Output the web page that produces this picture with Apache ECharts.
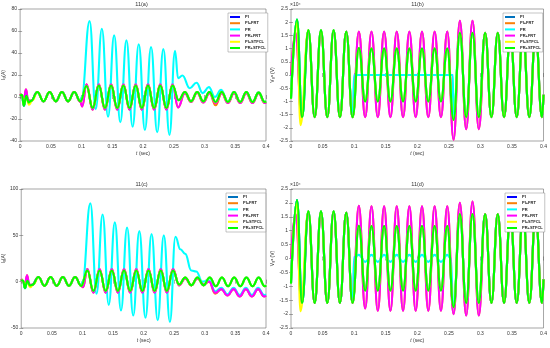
<!DOCTYPE html>
<html><head><meta charset="utf-8">
<script src="https://cdn.jsdelivr.net/npm/echarts@6/dist/echarts.min.js"></script>
<style>html,body{margin:0;padding:0;background:#fff}#c{width:550px;height:348px}</style>
</head><body><div id="c"></div>
<script>
// ---------- DATA ([time s, value]) ----------
const seriesNames = ['PI','PI+FRT','PR','PR+FRT','PI+STFCL','PR+STFCL'];
const panelTitles = ['11(a)','11(b)','11(c)','11(d)'];
const xTicks = [0,0.05,0.1,0.15,0.2,0.25,0.3,0.35,0.4];

// Panel (a) grid current Ig (A)
const greenA = [[0,1],[0.003,2],[0.006,-8],[0.01,1],[0.014,-5],[0.018,-3.5],[0.028,4.5],[0.038,-4],[0.048,4.5],[0.058,-4],[0.068,4.5],[0.078,-4],[0.088,4.5],[0.098,-4],[0.108,10],[0.118,-10],[0.128,10.5],[0.138,-10],[0.148,10.5],[0.158,-10],[0.168,10.5],[0.178,-10],[0.188,10.5],[0.198,-10],[0.208,10.5],[0.218,-10],[0.228,10.5],[0.238,-10],[0.248,10.5],[0.258,-3],[0.268,4.5],[0.278,-4],[0.288,4.5],[0.298,-4],[0.308,4.5],[0.318,-4.5],[0.328,4.5],[0.338,-4.5],[0.348,4.5],[0.358,-4.5],[0.368,4.5],[0.378,-4.5],[0.388,4],[0.398,-4.5],[0.4,-4]];
const magentaA = [[0,3],[0.003,1],[0.006,-3],[0.0095,7],[0.013,-3],[0.018,-3.5],[0.028,4.5],[0.038,-4],[0.048,4.5],[0.058,-4],[0.068,4.5],[0.078,-4],[0.088,4.5],[0.098,-4.5],[0.101,-8.5],[0.108,11.5],[0.118,-11.5],[0.128,11.5],[0.138,-11.5],[0.148,11.5],[0.158,-11.5],[0.168,11.5],[0.178,-11.5],[0.188,11.5],[0.198,-11.5],[0.208,11.5],[0.218,-11.5],[0.228,11.5],[0.238,-11.5],[0.248,11.5],[0.257,-9.5],[0.268,3.5],[0.278,-4.5],[0.288,4],[0.298,-5],[0.308,3.5],[0.318,-5.5],[0.328,3.5],[0.338,-5.5],[0.348,3.5],[0.358,-5.5],[0.368,3.5],[0.378,-5.5],[0.388,3.5],[0.398,-5.5],[0.4,-5]];
const orangeOverridesA = [[0.318,-7.5]];
const cyanFaultA = [[0.1,0],[0.113,69],[0.123,-11],[0.133,62],[0.143,-18],[0.153,56],[0.163,-23],[0.173,51.5],[0.183,-27],[0.193,48],[0.203,-30],[0.213,45.5],[0.223,-32],[0.233,43.5],[0.243,-34.5],[0.252,42],[0.257,17],[0.264,19.5],[0.276,8],[0.287,13],[0.297,3.5],[0.307,9],[0.317,0],[0.327,6.5],[0.338,-4],[0.348,4.5],[0.358,-4.5],[0.368,4.5],[0.378,-4.5],[0.388,4],[0.398,-4.5],[0.4,-4]];
const yellowEarlyA = [[0,1],[0.003,2],[0.006,-7.5],[0.0095,0],[0.0145,-7],[0.02,-3]];

// Panel (b) grid voltage (x10^4 V)
const greenB = [[0,-0.9],[0.0095,2.1],[0.0175,-1.6],[0.0275,1.7],[0.0375,-1.6],[0.0475,1.7],[0.0575,-1.6],[0.0675,1.7],[0.0775,-1.6],[0.0875,1.65],[0.0975,-1.6],[0.1075,1.02],[0.1175,-1.0],[0.1275,1.0],[0.1375,-1.0],[0.1475,1.0],[0.1575,-1.0],[0.1675,1.0],[0.1775,-1.0],[0.1875,1.0],[0.1975,-1.0],[0.2075,1.0],[0.2175,-1.0],[0.2275,1.0],[0.2375,-1.0],[0.2475,1.0],[0.2575,-1.7],[0.2675,1.6],[0.2775,-1.6],[0.2875,1.6],[0.2975,-1.6],[0.3075,1.6],[0.3175,-1.6],[0.3275,1.6],[0.3375,-1.6],[0.3475,1.6],[0.3575,-1.6],[0.3675,1.6],[0.3775,-1.6],[0.3875,1.6],[0.3975,-1.6],[0.4,-0.75]];
const magentaB = [[0,0],[0.0072,1.6],[0.0168,-1.6],[0.0275,1.65],[0.0375,-1.6],[0.0475,1.65],[0.0575,-1.6],[0.0675,1.65],[0.0775,-1.6],[0.0875,1.65],[0.0975,-1.6],[0.1075,1.65],[0.1175,-1.6],[0.1275,1.65],[0.1375,-1.6],[0.1475,1.65],[0.1575,-1.6],[0.1675,1.65],[0.1775,-1.6],[0.1875,1.65],[0.1975,-1.6],[0.2075,1.65],[0.2175,-1.6],[0.2275,1.65],[0.2375,-1.6],[0.2475,1.65],[0.2575,-2.45],[0.2675,2.05],[0.2775,-2.05],[0.2875,2.05],[0.2975,-2.05],[0.3075,1.6],[0.3175,-1.6],[0.3275,1.6],[0.3375,-1.6],[0.3475,1.6],[0.3575,-1.6],[0.3675,1.6],[0.3775,-1.6],[0.3875,1.6],[0.3975,-1.6],[0.4,-0.75]];
const cyanFaultB = [[0.1,0],[0.2565,0],[0.257,-1.7]];
const yellowEarlyB = [[0,-0.9],[0.0095,2.0],[0.015,-1.9]];

// Panel (c) grid current Ig (A)
const greenC = [[0,2],[0.003,1],[0.006,-7],[0.01,1],[0.014,-4],[0.018,-3.5],[0.028,5],[0.038,-4.5],[0.048,5],[0.058,-4.5],[0.068,5],[0.078,-4.5],[0.088,5],[0.098,-4.5],[0.108,12],[0.118,-10],[0.128,12],[0.138,-10],[0.148,12],[0.158,-10],[0.168,12],[0.178,-10],[0.188,12],[0.198,-10],[0.208,12],[0.218,-10],[0.228,12],[0.238,-10],[0.248,12],[0.258,-3],[0.268,4.5],[0.278,-4],[0.288,4.5],[0.298,-4],[0.308,4.5],[0.318,-5],[0.328,4.5],[0.338,-5],[0.348,4.5],[0.358,-5],[0.368,4.5],[0.378,-5],[0.388,4.5],[0.398,-5],[0.4,-4]];
const magentaC = [[0,3],[0.003,0],[0.006,-3],[0.0095,7],[0.013,-3],[0.018,-3.5],[0.028,5],[0.038,-4.5],[0.048,5],[0.058,-4.5],[0.068,5],[0.078,-4.5],[0.088,5],[0.098,-4.5],[0.101,-6],[0.108,13.5],[0.118,-12],[0.128,13.5],[0.138,-12],[0.148,13.5],[0.158,-12],[0.168,13.5],[0.178,-12],[0.188,13.5],[0.198,-12],[0.208,13.5],[0.218,-12],[0.228,13.5],[0.238,-12],[0.248,13.5],[0.258,-4],[0.268,3.5],[0.278,-4],[0.288,3.5],[0.298,-3],[0.307,0],[0.317,-12],[0.327,-8],[0.337,-15],[0.347,-8],[0.357,-16],[0.367,-8],[0.377,-16],[0.387,-8],[0.397,-16],[0.4,-15]];
const orangeOverridesC = [[0.317,-13]];
const cyanFaultC = [[0.1,0],[0.113,84.5],[0.123,-13],[0.133,72.5],[0.143,-25],[0.153,64],[0.163,-31],[0.173,58.5],[0.183,-36.5],[0.193,54.5],[0.203,-39],[0.213,51.5],[0.223,-41.5],[0.233,50],[0.243,-43.5],[0.252,48.5],[0.26,35],[0.268,30],[0.278,12],[0.286,11],[0.296,0],[0.307,1.5],[0.317,-10.5],[0.327,-6.5],[0.337,-13.5],[0.347,-6.5],[0.357,-14.5],[0.367,-6.5],[0.377,-14.5],[0.387,-6.5],[0.397,-14.5],[0.4,-13.5]];
const yellowEarlyC = [[0,2],[0.003,1],[0.006,-6],[0.0095,0],[0.0145,-6],[0.02,-3]];

// Panel (d) grid voltage (x10^4 V): fault-period segments, rest as in (b)
const greenFaultD = [[0.1075,1.18],[0.1175,-1.15],[0.1275,1.17],[0.1375,-1.15],[0.1475,1.17],[0.1575,-1.15],[0.1675,1.17],[0.1775,-1.15],[0.1875,1.17],[0.1975,-1.15],[0.2075,1.17],[0.2175,-1.15],[0.2275,1.17],[0.2375,-1.15],[0.2475,1.17],[0.2575,-1.75]];
const magentaFaultD = [[0.1075,1.9],[0.1175,-1.8],[0.1275,1.88],[0.1375,-1.88],[0.1475,1.88],[0.1575,-1.88],[0.1675,1.88],[0.1775,-1.88],[0.1875,1.88],[0.1975,-1.88],[0.2075,1.88],[0.2175,-1.88],[0.2275,1.88],[0.2375,-1.88],[0.2475,1.88],[0.2575,-2.0],[0.2675,2.0],[0.2775,-2.05],[0.2875,2.05],[0.2975,-2.05]];
const cyanFaultD = [[0.1,0.05],[0.1075,0.13],[0.1175,-0.12],[0.1275,0.13],[0.1375,-0.12],[0.1475,0.13],[0.1575,-0.12],[0.1675,0.13],[0.1775,-0.12],[0.1875,0.13],[0.1975,-0.12],[0.2075,0.13],[0.2175,-0.12],[0.2275,0.13],[0.2375,-0.12],[0.2475,0.13],[0.2525,0.02]];

// ---------- assemble series from the arrays above ----------
function override(arr, ov){ return arr.map(p => { const o = ov.find(q => q[0] === p[0]); return o ? o : p; }); }
const preA = greenA.filter(p => p[0] < 0.1);
const preC = greenC.filter(p => p[0] < 0.1);
const greenD = greenB.slice(0,11).concat(greenFaultD, greenB.slice(27));
const magentaD = magentaB.slice(0,11).concat(magentaFaultD, magentaB.slice(31));
const panelData = [
  [greenA, override(magentaA, orangeOverridesA), preA.concat(cyanFaultA), magentaA, yellowEarlyA.concat(greenA.slice(6)), greenA],
  [greenB, magentaB, greenB.slice(0,11).concat(cyanFaultB, greenB.slice(27)), magentaB, yellowEarlyB.concat(greenB.slice(3)), greenB],
  [greenC, override(magentaC, orangeOverridesC), preC.concat(cyanFaultC), magentaC, yellowEarlyC.concat(greenC.slice(6)), greenC],
  [greenD, magentaD, greenD.slice(0,11).concat(cyanFaultD, greenD.slice(26)), magentaD, yellowEarlyB.concat(greenD.slice(3)), greenD]
];
const yRanges = [[-40,80,20],[-2.5,2.5,0.5],[-50,100,50],[-2.5,2.5,0.5]];

// ---------- styles / layout ----------
const FONT = '"Liberation Sans", Arial, Helvetica, sans-serif';
const colorSets = [
  ['#0000FF','#F97F0A','#00FFFF','#FF00FF','#FFFF00','#00FF00'],
  ['#0072BD','#F97F0A','#00FFFF','#FF00FF','#FFFF00','#00FF00'],
  ['#0072BD','#F97F0A','#00FFFF','#FF00FF','#FFFF00','#00FF00'],
  ['#0000FF','#F97F0A','#00FFFF','#FF00FF','#FFFF00','#00FF00']
];
const grids = [
  {left:17, top:9, width:249, height:132},
  {left:291, top:9, width:253, height:132},
  {left:17, top:189, width:249, height:139},
  {left:291, top:189, width:253, height:139}
];
const legendPos = [{left:228, top:13},{left:503, top:13},{left:226, top:193},{left:505, top:193}];
const yNames = ['I{s|g}(A)','V{s|g}{u|a} (V)','I{s|g}(A)','V{s|g}{u|a} (V)'];

const option = {animation:false, backgroundColor:'#fff', grid:[], xAxis:[], yAxis:[], series:[], legend:[], graphic:[]};
const axisCol = '#555';
grids.forEach((g,i) => {
  option.grid.push(Object.assign({show:true, borderColor:'#6a6a6a', borderWidth:0.6, backgroundColor:'#fff'}, g));
  const [ymin,ymax,yint] = yRanges[i];
  option.xAxis.push({gridIndex:i, type:'value', min:0, max:0.4, interval:0.05,
    axisLine:{show:false}, axisTick:{inside:true, length:2, lineStyle:{color:axisCol, width:0.5}},
    axisLabel:{fontSize:5, color:'#333', margin:3, fontFamily:FONT}, splitLine:{show:false},
    name:'{i|t} (sec)', nameLocation:'middle', nameGap:10,
    nameTextStyle:{fontSize:5, color:'#333', fontFamily:FONT, rich:{i:{fontStyle:'italic', fontSize:5, fontFamily:FONT}}}});
  option.xAxis.push({gridIndex:i, type:'value', position:'top', min:0, max:0.4, interval:0.05,
    axisLine:{show:false}, axisTick:{inside:true, length:2, lineStyle:{color:axisCol, width:0.5}},
    axisLabel:{show:false}, splitLine:{show:false}});
  option.yAxis.push({gridIndex:i, type:'value', min:ymin, max:ymax, interval:yint,
    axisLine:{show:false}, axisTick:{inside:true, length:2, lineStyle:{color:axisCol, width:0.5}},
    axisLabel:{fontSize:5, color:'#333', margin:3, fontFamily:FONT}, splitLine:{show:false},
    name:yNames[i], nameLocation:'middle', nameGap:(i%2===0?12:10), nameRotate:90,
    nameTextStyle:{fontSize:5, color:'#333', fontFamily:FONT, rich:{s:{fontSize:3.5, verticalAlign:'bottom', fontFamily:FONT}, u:{fontSize:3.5, verticalAlign:'top', fontFamily:FONT}}}});
  option.yAxis.push({gridIndex:i, type:'value', position:'right', min:ymin, max:ymax, interval:yint,
    axisLine:{show:false}, axisTick:{inside:true, length:2, lineStyle:{color:axisCol, width:0.5}},
    axisLabel:{show:false}, splitLine:{show:false}});
  seriesNames.forEach((nm,k) => {
    option.series.push({name:nm, type:'line', xAxisIndex:2*i, yAxisIndex:2*i, data:panelData[i][k],
      showSymbol:false, symbol:'none', smooth:0.45, smoothMonotone:'x',
      lineStyle:{width:2.1, color:colorSets[i][k]}, itemStyle:{color:colorSets[i][k]}, z:2});
  });
  option.legend.push({orient:'vertical', left:legendPos[i].left, top:legendPos[i].top, z:20,
    backgroundColor:'#fff', borderColor:'#888', borderWidth:0.5, padding:[1.5,2,1.5,2],
    itemWidth:10, itemHeight:2, itemGap:1.2, icon:'rect', selectedMode:false,
    textStyle:{fontSize:4, fontWeight:'bold', color:'#222', lineHeight:5, fontFamily:FONT},
    data: seriesNames.map((nm,k) => ({name:nm, itemStyle:{color:colorSets[i][k]}}))});
  const cx = g.left + g.width/2;
  option.graphic.push({type:'text', x:cx, y:g.top-4.5, style:{text:panelTitles[i], font:'5.5px '+FONT, fill:'#333', align:'center', verticalAlign:'middle'}});
  if (i % 2 === 1) {
    option.graphic.push({type:'text', x:g.left-1, y:g.top-4, style:{text:'×10⁴', font:'5px '+FONT, fill:'#333', align:'left', verticalAlign:'middle'}});
  }
});

const chart = echarts.init(document.getElementById('c'), null, {renderer:'canvas'});
chart.setOption(option);
</script></body></html>
